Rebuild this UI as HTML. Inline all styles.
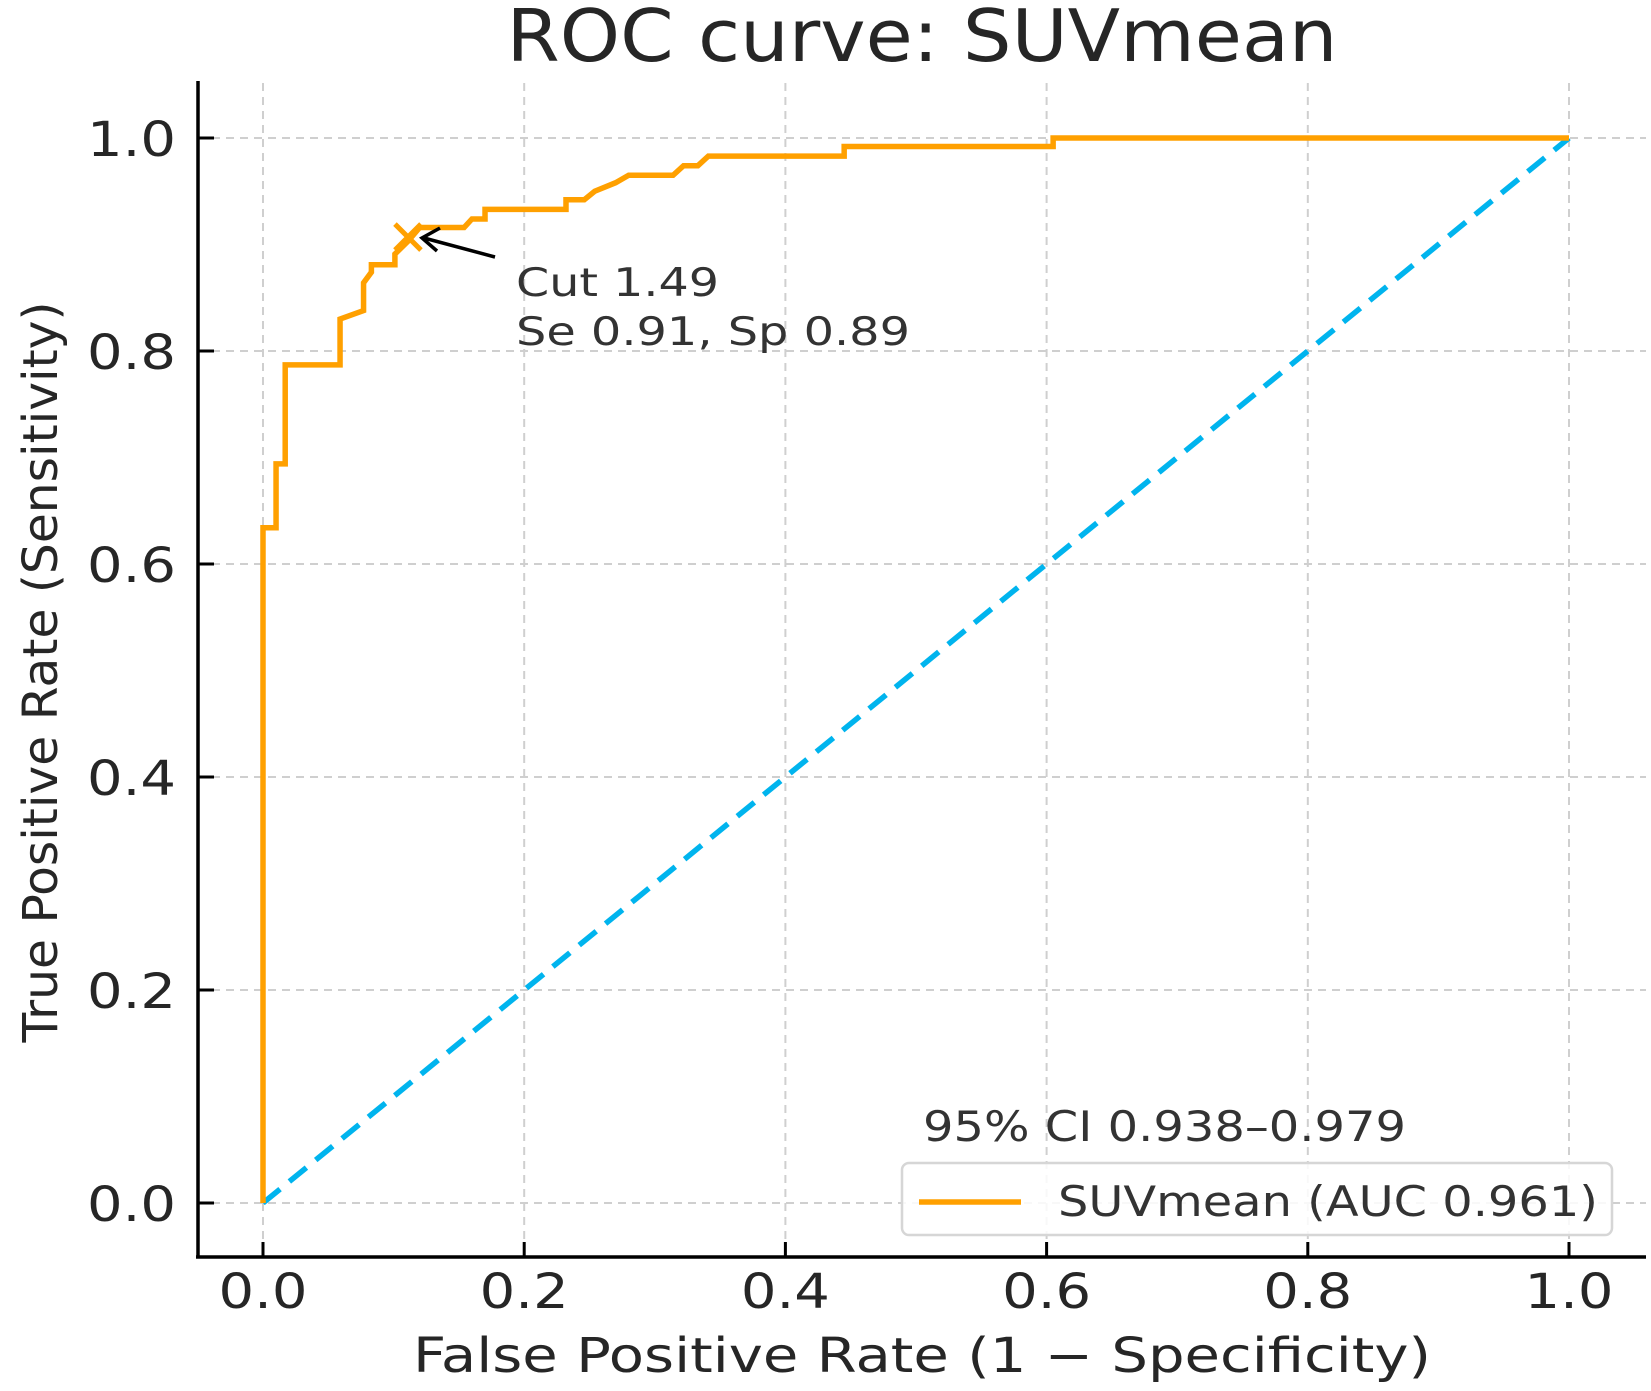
<!DOCTYPE html>
<html><head><meta charset="utf-8"><style>
html,body{margin:0;padding:0;background:#fff;}
svg{display:block;font-family:"DejaVu Sans","Liberation Sans",sans-serif;}
</style></head><body>
<svg id="chart" width="1651" height="1391" viewBox="0 0 1651 1391">
<text x="922" y="61" font-size="72" text-anchor="middle" textLength="831" lengthAdjust="spacingAndGlyphs" fill="#262626">ROC curve: SUVmean</text>
<g id="grid"></g>
<g id="axes"></g>
<g id="series"></g>
<text x="922" y="1372" font-size="48" text-anchor="middle" textLength="1018" lengthAdjust="spacingAndGlyphs" fill="#262626">False Positive Rate (1 − Specificity)</text>
<text transform="translate(57,672) rotate(-90)" font-size="48" text-anchor="middle" textLength="741" lengthAdjust="spacingAndGlyphs" fill="#262626">True Positive Rate (Sensitivity)</text>
<text x="516" y="296" font-size="39" textLength="203" lengthAdjust="spacingAndGlyphs" fill="#333">Cut 1.49</text>
<text x="516" y="345" font-size="39" textLength="394" lengthAdjust="spacingAndGlyphs" fill="#333">Se 0.91, Sp 0.89</text>
<g>
<line x1="495" y1="257" x2="424" y2="238" stroke="#000" stroke-width="3.5"/>
<polyline points="440,228 422,238 437,251" fill="none" stroke="#000" stroke-width="3.5"/>
</g>
<text x="923" y="1141" font-size="42" textLength="483" lengthAdjust="spacingAndGlyphs" fill="#333">95% CI 0.938–0.979</text>
<g>
<rect x="902" y="1163" width="710" height="72" rx="7" fill="#fff" fill-opacity="0.85" stroke="#d6d6d6" stroke-width="2.5"/>
<line x1="919" y1="1202" x2="1021" y2="1202" stroke="#FFA000" stroke-width="5.5"/>
<text x="1058" y="1216" font-size="42" textLength="540" lengthAdjust="spacingAndGlyphs" fill="#333">SUVmean (AUC 0.961)</text>
</g>
</svg>
<script>
const xTicks=[0,0.2,0.4,0.6,0.8,1.0];
const yTicks=[0,0.2,0.4,0.6,0.8,1.0];
const tickLabels=["0.0","0.2","0.4","0.6","0.8","1.0"];
const fpr=[0,0,0.01,0.01,0.017,0.017,0.059,0.059,0.077,0.077,0.083,0.083,0.101,0.101,0.111,0.12,0.154,0.16,0.17,0.17,0.232,0.232,0.246,0.254,0.27,0.28,0.314,0.322,0.333,0.341,0.445,0.445,0.605,0.605,1.0];
const tpr=[0,0.634,0.634,0.694,0.694,0.787,0.787,0.83,0.838,0.864,0.874,0.881,0.881,0.891,0.903,0.916,0.916,0.924,0.924,0.933,0.933,0.942,0.942,0.95,0.958,0.965,0.965,0.974,0.974,0.983,0.983,0.992,0.992,1.0,1.0];
const cutPoint=[0.111,0.907];
const NS="http://www.w3.org/2000/svg";
const X=v=>263+1306*v, Y=v=>1203-1065*v;
function mk(tag,attrs,parent){const e=document.createElementNS(NS,tag);for(const k in attrs)e.setAttribute(k,attrs[k]);parent.appendChild(e);return e;}
const grid=document.getElementById('grid'),axes=document.getElementById('axes'),series=document.getElementById('series');
xTicks.forEach((t,i)=>{
 const g=mk('line',{x1:X(t),x2:X(t),y1:83,y2:1257,stroke:'#cfcfcf','stroke-width':2,'stroke-dasharray':'8,6'},grid);
 
 
 const tk=mk('line',{x1:X(t),x2:X(t),y1:1257,y2:1242,stroke:'#000','stroke-width':3},axes);
 
 
 const lb=mk('text',{x:X(t),y:1308,'font-size':48,'text-anchor':'middle',textLength:89,lengthAdjust:'spacingAndGlyphs',fill:'#262626'},axes);
 lb.textContent=tickLabels[i];
 
 
});
yTicks.forEach((t,i)=>{
 const g=mk('line',{x1:198,x2:1646,y1:Y(t),y2:Y(t),stroke:'#cfcfcf','stroke-width':2,'stroke-dasharray':'8,6'},grid);
 
 
 const tk=mk('line',{x1:198,x2:214,y1:Y(t),y2:Y(t),stroke:'#000','stroke-width':3},axes);
 
 
 const lb=mk('text',{x:176,y:Y(t)+18,'font-size':48,'text-anchor':'end',textLength:89,lengthAdjust:'spacingAndGlyphs',fill:'#262626'},axes);
 lb.textContent=tickLabels[i];
 
 
});
const ls=mk('line',{x1:198,x2:198,y1:81,y2:1258,stroke:'#000','stroke-width':3.5},axes);


const bs=mk('line',{x1:196,x2:1646,y1:1257,y2:1257,stroke:'#000','stroke-width':3.5},axes);


const diag=mk('line',{x1:X(0),y1:Y(0),x2:X(1),y2:Y(1),stroke:'#00B4EE','stroke-width':5.5,'stroke-dasharray':'22,12'},series);


const pts=fpr.map((f,i)=>X(f)+','+Y(tpr[i])).join(' ');
const roc=mk('polyline',{points:pts,fill:'none',stroke:'#FFA000','stroke-width':5.5,'stroke-linejoin':'miter'},series);


const cx=X(cutPoint[0]),cy=Y(cutPoint[1]),s=13;
const mark=mk('path',{d:`M${cx-s},${cy-s}L${cx+s},${cy+s}M${cx-s},${cy+s}L${cx+s},${cy-s}`,stroke:'#FFA000','stroke-width':5},series);


</script>
</body></html>
